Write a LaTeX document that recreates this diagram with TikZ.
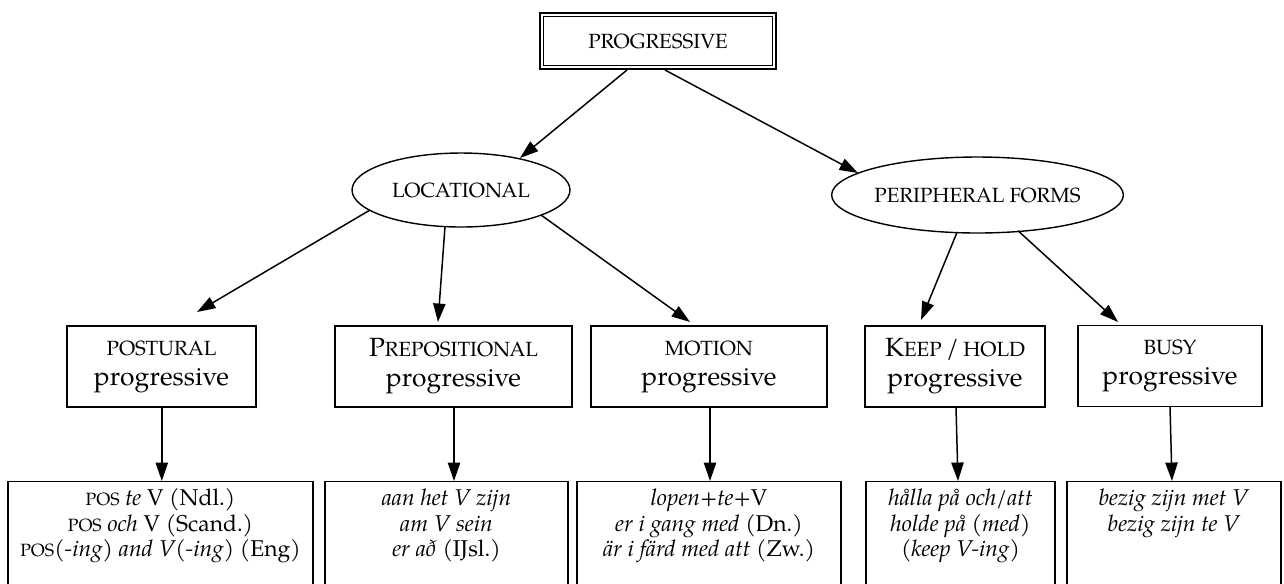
\documentclass[tikz,border=0pt]{standalone}
\usepackage{fontspec}
\setmainfont{texgyrepagella}[Extension=.otf, UprightFont=*-regular, ItalicFont=*-italic, BoldFont=*-bold, BoldItalicFont=*-bolditalic]
\usetikzlibrary{arrows.meta,calc,shapes.geometric}
\newcommand{\fsc}[1]{{\fontsize{11.7}{17}\selectfont #1}}
\newcommand{\fscb}[1]{{\fontsize{10.1}{14.5}\selectfont #1}}
\tikzset{
  boxnode/.style={draw, rectangle, inner sep=0pt, line width=0.8pt},
  midbox/.style={boxnode, minimum height=1.62cm, align=center, font=\fontsize{15}{17}\selectfont},
  botbox/.style={draw, rectangle, inner xsep=0pt, inner ysep=3.5pt, anchor=north, line width=0.8pt, font=\fontsize{13}{14.5}\selectfont},
  ellnode/.style={draw, ellipse, inner sep=0pt, line width=0.8pt, font=\fontsize{15}{17}\selectfont},
  arr/.style={-{Triangle[length=10.5pt,width=7pt]}, line width=0.85pt},
}
\begin{document}
\begin{tikzpicture}[x=0.02cm, y=-0.02cm]
\useasboundingbox (0,0) rectangle (1284,583);
\clip (0,0) rectangle (1284,583);

% top
\node[draw, double, double distance=1.2pt, line width=0.9pt, minimum width=4.656cm, minimum height=1.056cm, inner sep=0pt, font=\fontsize{15}{17}\selectfont] (top) at (658,41) {\fsc{PROGRESSIVE}};

% ellipses
\node[ellnode, minimum width=4.36cm, minimum height=1.48cm] (loc) at (461,190) {\fsc{LOCATIONAL}};
\node[ellnode, minimum width=4.78cm, minimum height=1.52cm] (per) at (977.5,195) {\fsc{PERIPHERAL FORMS}};

% middle boxes
\node[midbox, minimum width=3.78cm] (post) at (161.5,366.5) {\fsc{POSTURAL}\\progressive};
\node[midbox, minimum width=4.74cm] (prep) at (453.5,366.5) {P\fsc{REPOSITIONAL}\\progressive};
\node[midbox, minimum width=4.72cm] (mot) at (709,366.5) {\fsc{MOTION}\\progressive};
\node[midbox, minimum width=3.6cm] (keep) at (955,366.5) {K\fsc{EEP}\,/\,\fsc{HOLD}\\progressive};
\node[midbox, minimum width=3.68cm] (busy) at (1170,366) {\fsc{BUSY}\\progressive};

% bottom boxes
\node[botbox] (b1) at (160.5,481) {\parbox[c][2.6cm][t]{6.1cm}{\centering\strut\fscb{POS} \textit{te} V (Ndl.)\\ \fscb{POS} \textit{och} V (Scand.)\\ \fscb{POS}\textit{(-ing) and V(-ing)} (Eng)}};
\node[botbox] (b2) at (446.5,481) {\parbox[c][2.6cm][t]{4.86cm}{\centering\strut\textit{aan het V zijn}\\ \textit{am V sein}\\ \textit{er að} (IJsl.)}};
\node[botbox] (b3) at (709,481) {\parbox[c][2.6cm][t]{5.28cm}{\centering\strut\textit{lopen+te+}V\\ \textit{er i gang med} (Dn.)\\ \textit{är i färd med att} (Zw.)}};
\node[botbox] (b4) at (960.5,481) {\parbox[c][2.6cm][t]{3.78cm}{\centering\strut\textit{hålla på och/att}\\ \textit{holde på (med)}\\ \textit{(keep V-ing)}}};
\node[botbox] (b5) at (1174,481) {\parbox[c][2.6cm][t]{4.28cm}{\centering\strut\textit{bezig zijn met V}\\ \textit{bezig zijn te V}}};

% connectors
\draw[arr] ($(top.center)+(-31,29)$) -- ($(loc.center)+(59,-32)$);
\draw[arr] ($(top.center)+(7,29)$) -- ($(per.center)+(-119.5,-22)$);
\draw[arr] ($(loc.center)+(-91,20)$) -- ($(post.center)+(35.5,-54.5)$);
\draw[arr] ($(loc.center)+(-16,36.6)$) -- ($(prep.center)+(-15.5,-44.5)$);
\draw[arr] ($(loc.center)+(80,25)$) -- ($(mot.center)+(-19,-44.5)$);
\draw[arr] ($(per.center)+(-20.5,37.4)$) -- ($(keep.center)+(-34,-46.5)$);
\draw[arr] ($(per.center)+(40.5,35.7)$) -- ($(busy.center)+(-52,-44)$);

\draw[arr] ($(post.south)+(0.3,0)$) -- ($(post.south |- b1.north)+(0.3,0)$);
\draw[arr] ($(prep.south)+(0.5,0)$) -- ($(prep.south |- b2.north)+(0.5,0)$);
\draw[arr] ($(mot.south)+(1,0)$) -- ($(mot.south |- b3.north)+(1,0)$);
\draw[arr] ($(keep.south)+(1,0)$) -- ($(b4.north)+(-2.5,0)$);
\draw[arr] (busy.south) -- ($(b5.north)+(-2,0)$);
\end{tikzpicture}
\end{document}
